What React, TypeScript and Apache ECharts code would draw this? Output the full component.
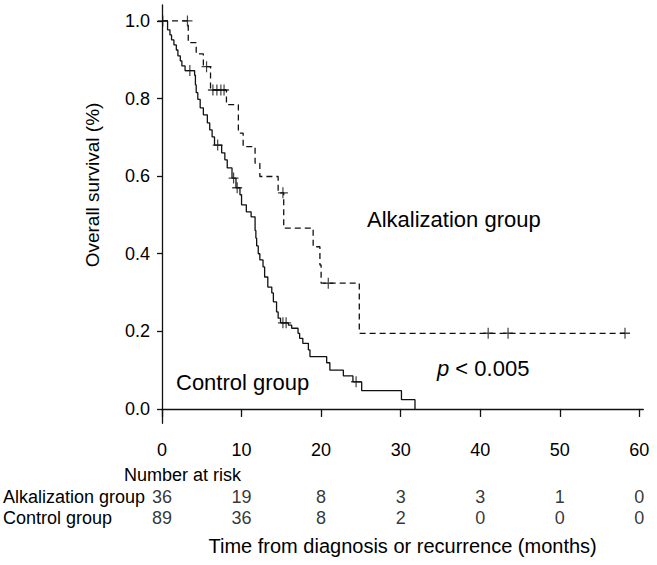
import React, { useEffect, useRef } from "react";
import * as echarts from "echarts";

const FONT = '"Liberation Sans", Arial, Helvetica, sans-serif';

const xTicks = [0, 10, 20, 30, 40, 50, 60];
const yTicks = [0, 0.2, 0.4, 0.6, 0.8, 1.0];

// Kaplan-Meier steps: [time (months), survival after the event]
const alkSteps: [number, number][] = [
  [0, 1.0], [3.3, 0.944], [4.3, 0.915], [5.2, 0.882], [6.1, 0.822],
  [8.1, 0.784], [9.6, 0.711], [10.2, 0.676], [11.7, 0.633], [12.3, 0.599],
  [14.6, 0.557], [15.3, 0.466], [19.0, 0.418], [19.85, 0.371], [20.0, 0.324],
  [24.8, 0.195], [58.2, 0.195],
];
const alkCensor: [number, number][] = [
  [3.2, 1.0], [5.6, 0.882], [6.4, 0.822], [6.9, 0.822], [7.4, 0.822], [7.8, 0.822],
  [15.2, 0.557], [20.9, 0.324], [41.0, 0.195], [43.5, 0.195], [58.2, 0.195],
];

const ctrlSteps: [number, number][] = [
  [0, 1.0], [0.7, 0.977], [1.0, 0.964], [1.2, 0.951], [1.5, 0.938], [1.8, 0.925],
  [2.0, 0.91], [2.3, 0.897], [2.5, 0.884], [2.9, 0.872], [4.1, 0.86], [4.2, 0.835],
  [4.3, 0.815], [4.5, 0.798], [4.8, 0.776], [5.2, 0.758], [5.7, 0.737], [6.0, 0.719],
  [6.3, 0.701], [6.6, 0.68], [7.5, 0.66], [7.9, 0.642], [8.2, 0.621], [8.8, 0.595],
  [9.3, 0.57], [9.8, 0.552], [10.0, 0.526], [10.6, 0.508], [11.2, 0.495], [11.7, 0.46],
  [11.8, 0.44], [11.9, 0.42], [12.1, 0.4], [12.3, 0.384], [12.7, 0.366], [12.9, 0.34],
  [13.3, 0.314], [13.8, 0.299], [14.0, 0.276], [14.4, 0.25], [14.6, 0.234], [14.9, 0.222],
  [15.9, 0.216], [16.3, 0.208], [17.1, 0.195], [17.3, 0.182], [17.7, 0.169], [18.4, 0.152],
  [18.6, 0.135], [20.7, 0.119], [21.1, 0.1], [22.8, 0.085], [24.0, 0.07], [25.1, 0.047],
  [30.1, 0.024], [31.8, 0.0],
];
const ctrlCensor: [number, number][] = [
  [0.1, 1.0], [3.5, 0.872], [7.0, 0.68], [9.0, 0.595], [9.45, 0.57],
  [15.2, 0.222], [15.6, 0.222], [24.4, 0.07],
];

const groupNames = ["Alkalization group", "Control group"];
const riskTimes = [0, 10, 20, 30, 40, 50, 60];
const riskAlk = [36, 19, 8, 3, 3, 1, 0];
const riskCtrl = [89, 36, 8, 2, 0, 0, 0];

const CROSS = "path://M4.4,0H5.6V10H4.4Z M0,4.4H10V5.6H0Z";
const INK = "#111";

export default function App() {
  const ref = useRef<HTMLDivElement>(null);
  useEffect(() => {
    document.body.style.margin = "0";
    if (!ref.current) return;
    const chart = echarts.init(ref.current, undefined, { renderer: "svg" });
    const riskData = [
      ...riskTimes.map((t, i) => [t, groupNames[0], riskAlk[i]]),
      ...riskTimes.map((t, i) => [t, groupNames[1], riskCtrl[i]]),
    ];
    chart.setOption({
      animation: false,
      backgroundColor: "#fff",
      textStyle: { fontFamily: FONT },
      grid: [
        { left: 162, right: 13.7, top: 5, height: 418.3 },
        { left: 162, right: 13.7, top: 486, height: 42 },
      ],
      xAxis: [
        {
          type: "value",
          gridIndex: 0,
          min: 0,
          max: 60.5,
          splitLine: { show: false },
          axisLine: { lineStyle: { color: INK, width: 1.3 } },
          axisTick: { customValues: xTicks, length: 8, lineStyle: { color: INK, width: 1.3 } },
          axisLabel: {
            customValues: xTicks,
            margin: 18,
            fontSize: 18,
            color: "#000",
            fontFamily: FONT,
          },
          name: "Time from diagnosis or recurrence (months)",
          nameLocation: "middle",
          nameGap: 113,
          nameTextStyle: { fontSize: 20, color: "#000", fontFamily: FONT },
        },
        {
          type: "value",
          gridIndex: 1,
          min: 0,
          max: 60.5,
          show: false,
        },
      ],
      yAxis: [
        {
          type: "value",
          gridIndex: 0,
          min: -0.037,
          max: 1.041,
          splitLine: { show: false },
          axisLine: { show: true, lineStyle: { color: INK, width: 1.3 } },
          axisTick: { show: true, customValues: yTicks, length: 5, lineStyle: { color: INK, width: 1.3 } },
          axisLabel: {
            customValues: yTicks,
            margin: 12,
            fontSize: 18,
            color: "#000",
            fontFamily: FONT,
            formatter: (v: number) => v.toFixed(1),
          },
        },
        {
          type: "category",
          gridIndex: 1,
          data: groupNames,
          inverse: true,
          axisLine: { show: false },
          axisTick: { show: false },
          splitLine: { show: false },
          axisLabel: {
            interval: 0,
            hideOverlap: false,
            align: "left",
            margin: 159,
            fontSize: 18,
            color: "#000",
            fontFamily: FONT,
          },
        },
      ],
      series: [
        {
          type: "line",
          name: "Alkalization group",
          data: alkSteps,
          step: "end",
          showSymbol: false,
          symbol: "none",
          lineStyle: { color: INK, width: 1.3, type: [6, 4] },
          xAxisIndex: 0,
          yAxisIndex: 0,
          z: 3,
        },
        {
          type: "line",
          name: "Control group",
          data: ctrlSteps,
          step: "end",
          showSymbol: false,
          symbol: "none",
          lineStyle: { color: INK, width: 1.3, type: "solid" },
          xAxisIndex: 0,
          yAxisIndex: 0,
          z: 3,
        },
        {
          type: "scatter",
          data: alkCensor,
          symbol: CROSS,
          symbolSize: [10, 11],
          itemStyle: { color: INK },
          xAxisIndex: 0,
          yAxisIndex: 0,
          z: 4,
        },
        {
          type: "scatter",
          data: ctrlCensor,
          symbol: CROSS,
          symbolSize: [10, 11],
          itemStyle: { color: INK },
          xAxisIndex: 0,
          yAxisIndex: 0,
          z: 4,
        },
        {
          type: "scatter",
          data: riskData,
          xAxisIndex: 1,
          yAxisIndex: 1,
          symbolSize: 1,
          itemStyle: { color: "rgba(0,0,0,0)" },
          label: {
            show: true,
            position: "inside",
            formatter: (p: any) => String(p.value[2]),
            fontSize: 18,
            color: "#000",
            fontFamily: FONT,
          },
        },
      ],
      graphic: [
        {
          type: "text",
          x: 92,
          y: 185,
          rotation: Math.PI / 2,
          style: {
            text: "Overall survival (%)",
            font: `19px ${FONT}`,
            fill: "#000",
            align: "center",
            verticalAlign: "middle",
          },
        },
        {
          type: "text",
          x: 124,
          y: 475,
          style: {
            text: "Number at risk",
            font: `18px ${FONT}`,
            fill: "#000",
            align: "left",
            verticalAlign: "middle",
          },
        },
        {
          type: "text",
          x: 367,
          y: 219,
          style: {
            text: "Alkalization group",
            font: `22px ${FONT}`,
            fill: "#000",
            align: "left",
            verticalAlign: "middle",
          },
        },
        {
          type: "text",
          x: 176,
          y: 382,
          style: {
            text: "Control group",
            font: `22px ${FONT}`,
            fill: "#000",
            align: "left",
            verticalAlign: "middle",
          },
        },
        {
          type: "text",
          x: 437,
          y: 368,
          style: {
            text: "{i|p} < 0.005",
            fontSize: 22,
            fontFamily: FONT,
            fill: "#000",
            align: "left",
            verticalAlign: "middle",
            rich: {
              i: { fontStyle: "italic", fontSize: 22, fontFamily: FONT, fill: "#000" },
            },
          },
        },
      ],
    });
    return () => chart.dispose();
  }, []);
  return <div ref={ref} style={{ width: 657, height: 565 }} />;
}
